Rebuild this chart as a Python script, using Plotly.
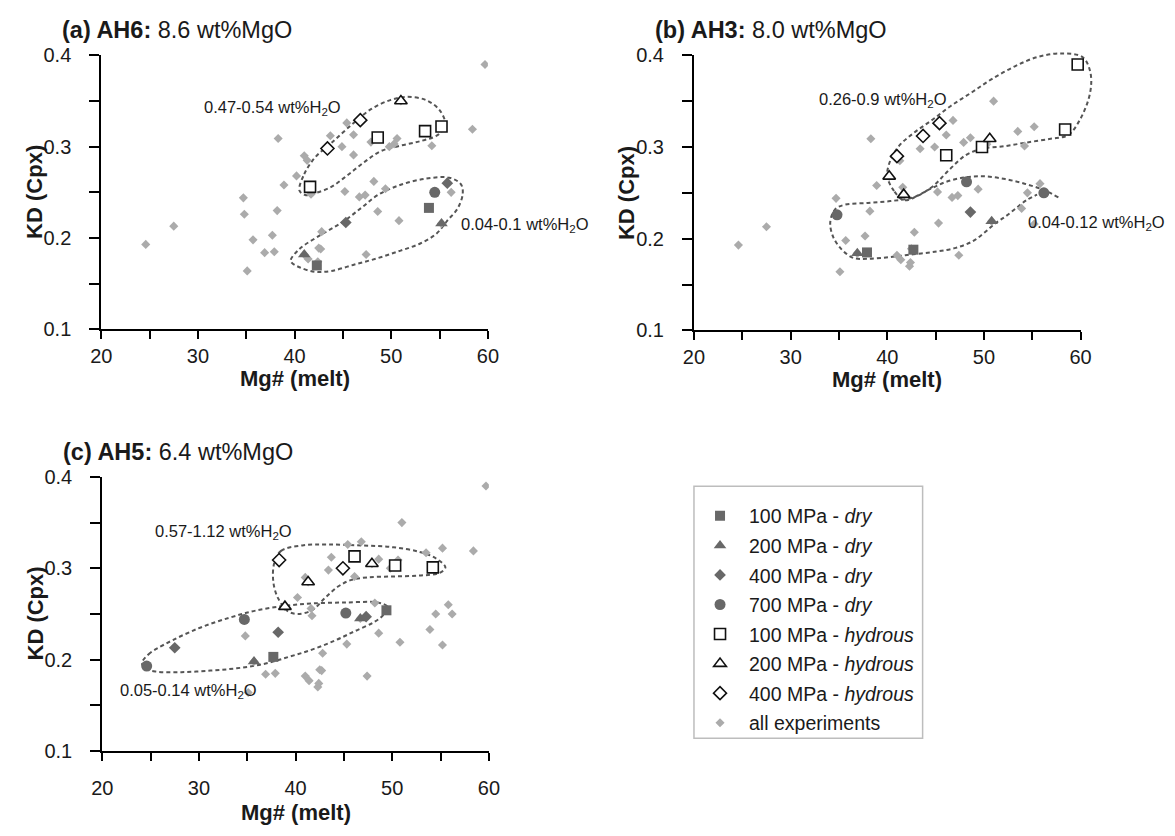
import plotly.graph_objects as go

W, H = 1175, 836
FONT = "Liberation Sans, Arial, sans-serif"
TXT = "#1a1a1a"

# ---------------- data: Mg# (melt) and KD (Cpx) ----------------
# Panel (a) AH6
a_dry100_mg = [42.3, 53.9];            a_dry100_kd = [0.170, 0.233]
a_dry200_mg = [41.0, 55.2];            a_dry200_kd = [0.182, 0.216]
a_dry400_mg = [45.3, 55.8];            a_dry400_kd = [0.217, 0.260]
a_dry700_mg = [54.5];                  a_dry700_kd = [0.250]
a_hyd100_mg = [41.6, 48.6, 53.5, 55.2]; a_hyd100_kd = [0.256, 0.310, 0.317, 0.322]
a_hyd200_mg = [51.0];                  a_hyd200_kd = [0.350]
a_hyd400_mg = [43.4, 46.8];            a_hyd400_kd = [0.298, 0.329]

# Panel (b) AH3
b_dry100_mg = [37.9, 42.7];            b_dry100_kd = [0.185, 0.188]
b_dry200_mg = [36.9, 50.8];            b_dry200_kd = [0.184, 0.219]
b_dry400_mg = [48.6];                  b_dry400_kd = [0.229]
b_dry700_mg = [34.8, 48.2, 56.2];      b_dry700_kd = [0.226, 0.262, 0.250]
b_hyd100_mg = [46.1, 49.8, 58.4, 59.7]; b_hyd100_kd = [0.291, 0.300, 0.319, 0.390]
b_hyd200_mg = [40.2, 41.7, 50.6];      b_hyd200_kd = [0.268, 0.248, 0.309]
b_hyd400_mg = [41.0, 43.7, 45.4];      b_hyd400_kd = [0.290, 0.312, 0.326]

# Panel (c) AH5
c_dry100_mg = [37.7, 49.4];            c_dry100_kd = [0.203, 0.254]
c_dry200_mg = [35.7, 46.7];            c_dry200_kd = [0.198, 0.245]
c_dry400_mg = [27.5, 38.2, 47.3];      c_dry400_kd = [0.213, 0.230, 0.247]
c_dry700_mg = [24.6, 34.7, 45.2];      c_dry700_kd = [0.193, 0.244, 0.251]
c_hyd100_mg = [46.1, 50.3, 54.2];      c_hyd100_kd = [0.313, 0.303, 0.301]
c_hyd200_mg = [38.9, 41.3, 47.9];      c_hyd200_kd = [0.258, 0.285, 0.305]
c_hyd400_mg = [38.3, 44.9];            c_hyd400_kd = [0.309, 0.300]

# all experiments (grey diamonds, identical in every panel)
all_mg = [42.3, 53.9, 41.0, 55.2, 45.3, 55.8, 54.5, 41.6, 48.6, 53.5, 55.2, 51.0, 43.4, 46.8,
          37.9, 42.7, 36.9, 50.8, 48.6, 34.8, 48.2, 56.2, 46.1, 49.8, 58.4, 59.7, 40.2, 41.7,
          50.6, 41.0, 43.7, 45.4,
          37.7, 49.4, 35.7, 46.7, 27.5, 38.2, 47.3, 24.6, 34.7, 45.2, 46.1, 50.3, 54.2, 38.9,
          41.3, 47.9, 38.3, 44.9,
          35.1, 41.4, 42.4, 42.5, 42.8, 47.4]
all_kd = [0.170, 0.233, 0.182, 0.216, 0.217, 0.260, 0.250, 0.256, 0.310, 0.317, 0.322, 0.350, 0.298, 0.329,
          0.185, 0.188, 0.184, 0.219, 0.229, 0.226, 0.262, 0.250, 0.291, 0.300, 0.319, 0.390, 0.268, 0.248,
          0.309, 0.290, 0.312, 0.326,
          0.203, 0.254, 0.198, 0.245, 0.213, 0.230, 0.247, 0.193, 0.244, 0.251, 0.313, 0.303, 0.301, 0.258,
          0.285, 0.305, 0.309, 0.300,
          0.164, 0.177, 0.174, 0.189, 0.207, 0.182]

# dotted envelopes (hand-drawn outlines), Mg# / KD
a_hyd_env_mg = [40.5, 41.0, 42.1, 43.8, 45.9, 47.9, 49.9, 51.6, 53.6, 55.0, 55.6, 55.3, 54.7, 53.0,
                50.9, 48.9, 47.2, 45.5, 43.8, 42.1, 41.1, 40.5]
a_hyd_env_kd = [0.252, 0.270, 0.288, 0.304, 0.324, 0.341, 0.351, 0.3545, 0.351, 0.340, 0.325, 0.318,
                0.312, 0.306, 0.301, 0.295, 0.283, 0.269, 0.256, 0.249, 0.247, 0.252]
a_dry_env_mg = [39.6, 40.5, 42.8, 44.9, 46.9, 48.6, 50.9, 53.6, 56.0, 57.2, 57.4, 56.9, 55.8, 54.7,
                53.0, 50.9, 48.6, 46.2, 43.8, 42.1, 40.5, 39.7, 39.6]
a_dry_env_kd = [0.176, 0.188, 0.204, 0.217, 0.233, 0.247, 0.258, 0.265, 0.266, 0.259, 0.249, 0.233,
                0.219, 0.205, 0.194, 0.186, 0.178, 0.171, 0.164, 0.163, 0.168, 0.173, 0.176]
b_hyd_env_mg = [41.7, 40.7, 40.0, 40.3, 41.2, 42.7, 44.7, 46.6, 48.8, 50.8, 53.2, 55.5, 57.9, 60.2,
                61.0, 61.0, 60.0, 58.7, 56.9, 54.5, 52.2, 49.8, 48.1, 46.4, 44.7, 43.0, 41.7]
b_hyd_env_kd = [0.242, 0.252, 0.268, 0.285, 0.301, 0.315, 0.330, 0.345, 0.360, 0.374, 0.388, 0.398,
                0.402, 0.398, 0.382, 0.360, 0.331, 0.313, 0.309, 0.305, 0.301, 0.298, 0.291, 0.275,
                0.257, 0.246, 0.242]
b_dry_env_mg = [57.7, 56.2, 54.2, 52.2, 50.1, 48.1, 46.1, 44.4, 42.7, 40.3, 38.0, 35.6, 34.6, 34.1,
                34.4, 35.3, 36.5, 38.0, 40.3, 42.7, 45.1, 47.1, 48.8, 50.1, 51.2, 52.2, 53.3, 54.4, 55.5]
b_dry_env_kd = [0.245, 0.253, 0.260, 0.265, 0.268, 0.267, 0.262, 0.254, 0.245, 0.241, 0.239, 0.237,
                0.232, 0.218, 0.202, 0.188, 0.179, 0.178, 0.180, 0.183, 0.186, 0.190, 0.197, 0.207,
                0.217, 0.224, 0.233, 0.242, 0.248]
c_hyd_env_mg = [37.8, 38.5, 40.7, 43.4, 46.8, 50.1, 52.8, 54.5, 55.5, 54.9, 52.8, 50.1, 47.4, 45.7,
                44.4, 43.0, 41.7, 40.2, 39.2, 38.2, 37.7, 37.8]
c_hyd_env_kd = [0.306, 0.319, 0.325, 0.326, 0.325, 0.323, 0.318, 0.311, 0.301, 0.295, 0.292, 0.291,
                0.290, 0.287, 0.280, 0.267, 0.254, 0.250, 0.253, 0.267, 0.285, 0.306]
c_dry_env_mg = [24.1, 24.8, 26.5, 29.9, 33.2, 36.0, 39.0, 41.7, 45.1, 48.5, 49.5, 49.1, 48.1, 46.1,
                44.1, 41.7, 39.3, 36.6, 33.9, 31.2, 28.2, 25.5, 24.5, 24.1]
c_dry_env_kd = [0.196, 0.206, 0.217, 0.234, 0.246, 0.254, 0.259, 0.2615, 0.2625, 0.2625, 0.258, 0.249,
                0.241, 0.231, 0.221, 0.211, 0.203, 0.195, 0.1905, 0.188, 0.1863, 0.187, 0.190, 0.196]

series_names = ["100 MPa - <i>dry</i>", "200 MPa - <i>dry</i>", "400 MPa - <i>dry</i>",
                "700 MPa - <i>dry</i>", "100 MPa - <i>hydrous</i>", "200 MPa - <i>hydrous</i>",
                "400 MPa - <i>hydrous</i>"]
panel_titles = ["<b>(a) AH6:</b> 8.6 wt%MgO", "<b>(b) AH3:</b> 8.0 wt%MgO", "<b>(c) AH5:</b> 6.4 wt%MgO"]
env_labels = ["0.47-0.54 wt%H<sub>2</sub>O", "0.04-0.1 wt%H<sub>2</sub>O",
              "0.26-0.9 wt%H<sub>2</sub>O", "0.04-0.12 wt%H<sub>2</sub>O",
              "0.57-1.12 wt%H<sub>2</sub>O", "0.05-0.14 wt%H<sub>2</sub>O"]

panels = {
    "a": dict(series=[(a_dry100_mg, a_dry100_kd), (a_dry200_mg, a_dry200_kd), (a_dry400_mg, a_dry400_kd),
                      (a_dry700_mg, a_dry700_kd), (a_hyd100_mg, a_hyd100_kd), (a_hyd200_mg, a_hyd200_kd),
                      (a_hyd400_mg, a_hyd400_kd)],
              envs=[(a_hyd_env_mg, a_hyd_env_kd), (a_dry_env_mg, a_dry_env_kd)]),
    "b": dict(series=[(b_dry100_mg, b_dry100_kd), (b_dry200_mg, b_dry200_kd), (b_dry400_mg, b_dry400_kd),
                      (b_dry700_mg, b_dry700_kd), (b_hyd100_mg, b_hyd100_kd), (b_hyd200_mg, b_hyd200_kd),
                      (b_hyd400_mg, b_hyd400_kd)],
              envs=[(b_hyd_env_mg, b_hyd_env_kd), (b_dry_env_mg, b_dry_env_kd)]),
    "c": dict(series=[(c_dry100_mg, c_dry100_kd), (c_dry200_mg, c_dry200_kd), (c_dry400_mg, c_dry400_kd),
                      (c_dry700_mg, c_dry700_kd), (c_hyd100_mg, c_hyd100_kd), (c_hyd200_mg, c_hyd200_kd),
                      (c_hyd400_mg, c_hyd400_kd)],
              envs=[(c_hyd_env_mg, c_hyd_env_kd), (c_dry_env_mg, c_dry_env_kd)]),
}

# ---------------- layout geometry (pixels) ----------------
# plot-area boxes: x0, x1, ytop, ybottom, x-ticklabel standoff, x-title offset
boxes = {"a": (92, 486, 45.5, 327, 0, 50), "b": (696, 1090, 45.5, 328, 0, 50),
         "c": (93, 487, 478.5, 760, 10, 63)}
XR, YR = (20, 60), (0.1, 0.4)
PAD = 40

DRY = "#686868"
GREY = "#ababab"
sym = ["square", "triangle-up", "diamond", "circle", "square", "triangle-up", "diamond"]
size = [10, 11, 9, 11, 11, 11, 10]

fig = go.Figure()
layout_axes = {}
annotations = []

for i, key in enumerate(["a", "b", "c"]):
    x0, x1, yt, yb, xstand, xtoff = boxes[key]
    env_ax = "" if i == 0 else str(i + 1)      # hidden overlay axes: x, x2, x3
    vis_ax = str(i + 4)                          # visible axes: x4, x5, x6
    sx = (XR[1] - XR[0]) / (x1 - x0)
    sy = (YR[1] - YR[0]) / (yb - yt)
    # hidden, enlarged axes with identical scale (lets the envelopes run past the axes)
    layout_axes["xaxis" + env_ax] = dict(domain=[(x0 - PAD) / W, (x1 + PAD) / W],
                                         range=[XR[0] - PAD * sx, XR[1] + PAD * sx],
                                         visible=False, anchor="y" + env_ax, fixedrange=True)
    layout_axes["yaxis" + env_ax] = dict(domain=[1 - (yb + PAD) / H, 1 - (yt - PAD) / H],
                                         range=[YR[0] - PAD * sy, YR[1] + PAD * sy],
                                         visible=False, anchor="x" + env_ax, fixedrange=True)
    layout_axes["xaxis" + vis_ax] = dict(
        domain=[x0 / W, x1 / W], range=list(XR), anchor="y" + vis_ax,
        showline=True, linewidth=2, linecolor="black", ticks="outside", ticklen=8, tickwidth=2,
        tickcolor="black", tick0=20, dtick=10, showgrid=False, zeroline=False,
        minor=dict(tick0=20, dtick=5, ticks="outside", ticklen=8, tickwidth=2, tickcolor="black",
                   showgrid=False),
        tickfont=dict(family=FONT, size=20, color=TXT), ticklabelstandoff=xstand, fixedrange=True)
    layout_axes["yaxis" + vis_ax] = dict(
        domain=[1 - yb / H, 1 - yt / H], range=list(YR), anchor="x" + vis_ax,
        showline=True, linewidth=2, linecolor="black", ticks="outside", ticklen=10, tickwidth=2,
        tickcolor="black", tick0=0.1, dtick=0.1, tickformat=".1f", showgrid=False, zeroline=False,
        minor=dict(tick0=0.1, dtick=0.05, ticks="outside", ticklen=10, tickwidth=2,
                   tickcolor="black", showgrid=False),
        tickfont=dict(family=FONT, size=20, color=TXT), ticklabelstandoff=14, fixedrange=True)

    # envelopes
    for ex, ey in panels[key]["envs"]:
        fig.add_trace(go.Scatter(x=ex, y=ey, mode="lines", xaxis="x" + env_ax, yaxis="y" + env_ax,
                                 line=dict(color="#555555", width=2, dash="4px,3px", shape="spline",
                                           smoothing=1.0),
                                 showlegend=False, hoverinfo="skip"))
    # all experiments
    fig.add_trace(go.Scatter(x=all_mg, y=all_kd, mode="markers", name="all experiments",
                             xaxis="x" + vis_ax, yaxis="y" + vis_ax,
                             marker=dict(symbol="diamond", size=7, color=GREY),
                             legendgroup="all", legendrank=8, showlegend=(i == 0)))
    for j, (mx, my) in enumerate(panels[key]["series"]):
        hyd = j >= 4
        marker = dict(symbol=sym[j], size=size[j],
                      color="white" if hyd else DRY,
                      line=dict(color="#111111" if hyd else DRY, width=1.6 if hyd else 0))
        fig.add_trace(go.Scatter(x=mx, y=my, mode="markers", name=series_names[j],
                                 xaxis="x" + vis_ax, yaxis="y" + vis_ax, marker=marker,
                                 legendgroup=series_names[j], legendrank=j + 1,
                                 showlegend=(i == 0), cliponaxis=False))

    # panel title
    annotations.append(dict(text=panel_titles[i], xref="paper", yref="paper",
                            x=(x0 - 42) / W, y=1 - (yt - 25.5) / H, xanchor="left", yanchor="middle",
                            showarrow=False, font=dict(family=FONT, size=23.5, color=TXT)))
    # axis titles
    annotations.append(dict(text="<b>Mg# (melt)</b>", xref="paper", yref="paper",
                            x=(x0 + x1) / 2 / W, y=1 - (yb + xtoff) / H, xanchor="center",
                            yanchor="middle", showarrow=False,
                            font=dict(family=FONT, size=22, color=TXT)))
    annotations.append(dict(text="<b>KD (Cpx)</b>", xref="paper", yref="paper",
                            x=(x0 - 68) / W, y=1 - (yt + yb) / 2 / H, xanchor="center",
                            yanchor="middle", textangle=-90, showarrow=False,
                            font=dict(family=FONT, size=22, color=TXT)))

# envelope labels (data coordinates)
lab_pos = [("x4", "y4", 45.0, 0.342, "right"), ("x4", "y4", 57.0, 0.214, "left"),
           ("x5", "y5", 46.4, 0.351, "right"), ("x5", "y5", 54.4, 0.217, "left"),
           ("x6", "y6", 39.8, 0.340, "right"), ("x6", "y6", 21.6, 0.166, "left")]
for txt, (xr, yr, lx, ly, anc) in zip(env_labels, lab_pos):
    annotations.append(dict(text=txt, xref=xr, yref=yr, x=lx, y=ly, xanchor=anc, yanchor="middle",
                            showarrow=False, font=dict(family=FONT, size=16.5, color=TXT)))

fig.update_layout(
    width=W, height=H, autosize=False,
    margin=dict(l=0, r=0, t=0, b=0),
    paper_bgcolor="white", plot_bgcolor="rgba(0,0,0,0)",
    font=dict(family=FONT, color=TXT),
    annotations=annotations,
    legend=dict(x=693 / W, y=1 - 498.8 / H, xanchor="left", yanchor="top",
                font=dict(family=FONT, size=19.5, color=TXT), bgcolor="rgba(0,0,0,0)",
                borderwidth=0, itemwidth=48, tracegroupgap=1.2, traceorder="grouped"),
    shapes=[dict(type="rect", xref="paper", yref="paper", x0=696 / W, x1=929 / W,
                 y0=1 - 747 / H, y1=1 - 488 / H, line=dict(color="#bdbdbd", width=1.5))],
    **layout_axes,
)

fig.write_html("out.html")
